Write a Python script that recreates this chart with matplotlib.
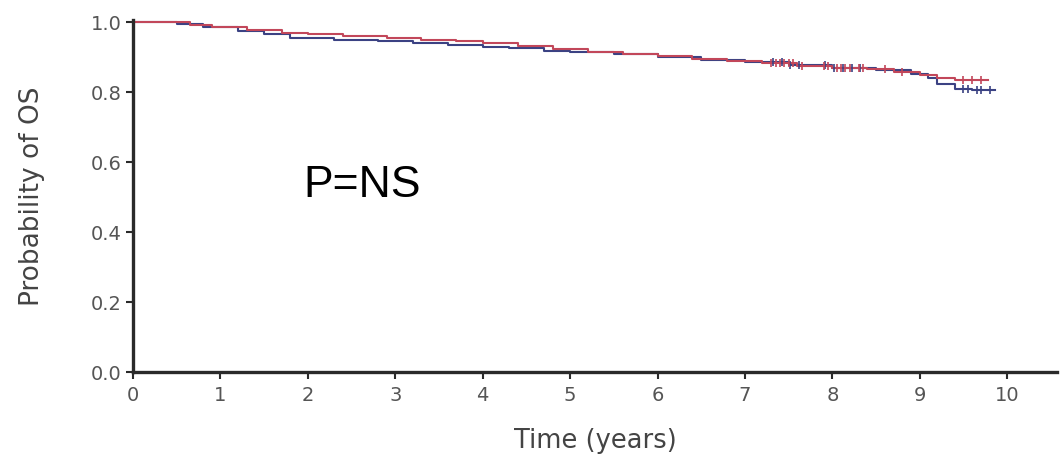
import matplotlib
matplotlib.use("Agg")
import matplotlib.pyplot as plt

# Kaplan-Meier step data
red_times = [0, 0.65, 0.9, 1.3, 1.7, 2.0, 2.4, 2.9, 3.3, 3.7, 4.0, 4.4, 4.8, 5.2,
             5.6, 6.0, 6.4, 6.8, 7.2, 7.6, 8.0, 8.4, 8.7, 9.0, 9.2, 9.4, 9.78]
red_surv = [1.0, 0.992, 0.985, 0.978, 0.970, 0.965, 0.960, 0.955, 0.950, 0.945,
            0.940, 0.932, 0.922, 0.915, 0.908, 0.902, 0.895, 0.888, 0.882, 0.875,
            0.870, 0.865, 0.858, 0.848, 0.840, 0.835, 0.835]

blue_times = [0, 0.5, 0.8, 1.2, 1.5, 1.8, 2.3, 2.8, 3.2, 3.6, 4.0, 4.3, 4.7, 5.0,
              5.5, 6.0, 6.5, 7.0, 7.5, 8.0, 8.5, 8.9, 9.1, 9.2, 9.4, 9.6, 9.86]
blue_surv = [1.0, 0.995, 0.985, 0.975, 0.965, 0.955, 0.950, 0.945, 0.940, 0.935,
             0.930, 0.925, 0.918, 0.914, 0.908, 0.900, 0.893, 0.886, 0.878, 0.870,
             0.862, 0.852, 0.840, 0.822, 0.810, 0.806, 0.806]

# censor mark times (dense clusters seen in the picture)
red_censor = [7.3, 7.35, 7.4, 7.45, 7.5, 7.55, 7.65, 7.9, 7.95, 8.05, 8.1, 8.15,
              8.2, 8.3, 8.35, 8.6, 8.8, 9.5, 9.6, 9.7]
blue_censor = [7.32, 7.42, 7.52, 7.62, 7.92, 8.02, 8.12, 8.22, 8.32, 9.5, 9.55,
               9.65, 9.7, 9.8]

x_ticks = [0, 1, 2, 3, 4, 5, 6, 7, 8, 9, 10]
y_ticks = [0.0, 0.2, 0.4, 0.6, 0.8, 1.0]
y_tick_labels = ["0.0", "0.2", "0.4", "0.6", "0.8", "1.0"]

plt.rcParams['font.family'] = ['DejaVu Sans']

fig = plt.figure(figsize=(10.64, 4.69), dpi=100)
ax = fig.add_axes([133 / 1064, 1 - 372 / 469, (1057 - 133) / 1064, (372 - 20) / 469])

red_c = "#c2475a"
blue_c = "#3b4283"

ax.step(blue_times, blue_surv, where="post", color=blue_c, lw=1.5, clip_on=False)
ax.step(red_times, red_surv, where="post", color=red_c, lw=1.5, clip_on=False)


def surv_at(times, surv, t):
    val = surv[0]
    for ti, si in zip(times, surv):
        if ti <= t:
            val = si
    return val


ax.plot(blue_censor, [surv_at(blue_times, blue_surv, t) for t in blue_censor],
        ls="none", marker="|", ms=6, mew=1.2, color=blue_c)
ax.plot(red_censor, [surv_at(red_times, red_surv, t) for t in red_censor],
        ls="none", marker="|", ms=6, mew=1.2, color=red_c)

ax.set_xlim(0, 10.57)
ax.set_ylim(0, 1.006)
ax.set_xticks(x_ticks)
ax.set_yticks(y_ticks)
ax.set_yticklabels(y_tick_labels)

for s in ["top", "right"]:
    ax.spines[s].set_visible(False)
for s in ["left", "bottom"]:
    ax.spines[s].set_color("#2a2a2a")
    ax.spines[s].set_linewidth(2.4)

ax.tick_params(axis="both", direction="out", length=5, width=1.5, color="#2a2a2a",
               labelsize=14, labelcolor="#555555")
ax.tick_params(axis="x", pad=5)
ax.tick_params(axis="y", pad=3)

ax.set_xlabel("Time (years)", fontsize=18.5, color="#444444")
ax.xaxis.label.set_va("center")
ax.xaxis.set_label_coords(0.5, (372 - 441) / 352)
ax.set_ylabel("Probability of OS", fontsize=19, color="#444444")
ax.yaxis.label.set_va("center")
ax.yaxis.set_label_coords((32 - 133) / 924, 0.5)

ax.text(1.95, 0.5, "P=NS", fontsize=32, color="black", ha="left", va="baseline",
        family=["Liberation Sans", "DejaVu Sans"])

fig.savefig("out.png", dpi=100)
